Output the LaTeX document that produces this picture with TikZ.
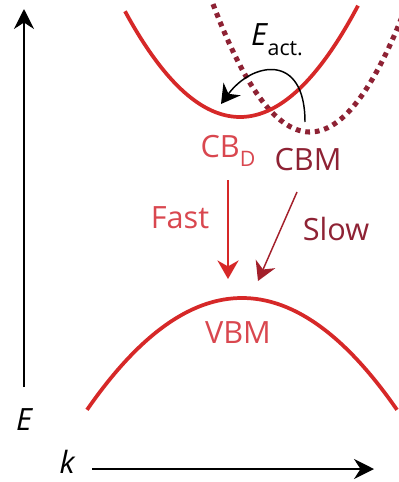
\documentclass[tikz,border=0pt]{standalone}
\usepackage{fontspec}
\setmainfont{Open Sans}
\usetikzlibrary{arrows.meta}
\definecolor{cbred}{HTML}{D62828}
\definecolor{lblred}{HTML}{D9474F}
\definecolor{darkred}{HTML}{8E2234}
\definecolor{slowred}{HTML}{A3202B}
\tikzset{
  axis/.style={line width=1.1pt, black, -{Stealth[length=15pt,width=15pt]}},
  band/.style={line width=2.8pt, cbred},
  dotband/.style={line width=3.8pt, darkred, dash pattern=on 3.6pt off 3.6pt},
  lbl/.style={inner sep=0pt, font=\fontsize{23}{26}\selectfont},
  tr/.style={line width=1.1pt, -{Stealth[length=14pt,width=16pt]}}
}
\begin{document}
\begin{tikzpicture}[x=0.75pt,y=-0.75pt]
\useasboundingbox (0,0) rectangle (399,482);
% axes
\coordinate (eb) at (24,387);
\coordinate (et) at (24,9);
\draw[axis] (eb) -- (et);
\node[lbl] (E) at (24,420) {\itshape E};
\node[lbl] (k) at (67,462) {\itshape k};
\coordinate (kb) at (92,469);
\coordinate (kt) at (374,469);
\draw[axis] (kb) -- (kt);
% bands
\begin{scope}
\clip (0,0) rectangle (399,482);
\draw[dotband] plot[domain=213:402, samples=60, smooth] (\x,{132-0.0136*(\x-310)*(\x-310)});
\end{scope}
\draw[band] plot[domain=125:358, samples=60, smooth] (\x,{117-0.0080*(\x-240)*(\x-240)});
\draw[band] plot[domain=87:397, samples=60, smooth] (\x,{298+0.00466*(\x-242)*(\x-242)});
% labels
\node[lbl, text=black] (eact) at (277,40) {\itshape E\kern0.5pt\raisebox{-0.32em}{\fontsize{16}{18}\selectfont\upshape act.}};
\node[lbl, text=lblred] (cbd) at (228,151) {CB\raisebox{-0.3em}{\fontsize{16}{18}\selectfont D}};
\node[lbl, text=darkred] (cbm) at (308,160) {CBM};
\node[lbl, text=lblred] (fast) at (180,218) {Fast};
\node[lbl, text=darkred] (slow) at (336,229) {Slow};
\node[lbl, text=lblred] (vbm) at (238,333) {VBM};
% transitions
\coordinate (cbmtop) at (305,122);
\coordinate (cbdtop) at (221,104);
\draw[tr, black] (cbmtop) .. controls (305,52) and (252,62) .. (cbdtop);
\coordinate (fs) at (228,180);
\coordinate (fe) at (228,279);
\draw[tr, cbred] (fs) -- (fe);
\coordinate (ss) at (297,192);
\coordinate (se) at (258,281);
\draw[tr, slowred] (ss) -- (se);
\end{tikzpicture}
\end{document}
